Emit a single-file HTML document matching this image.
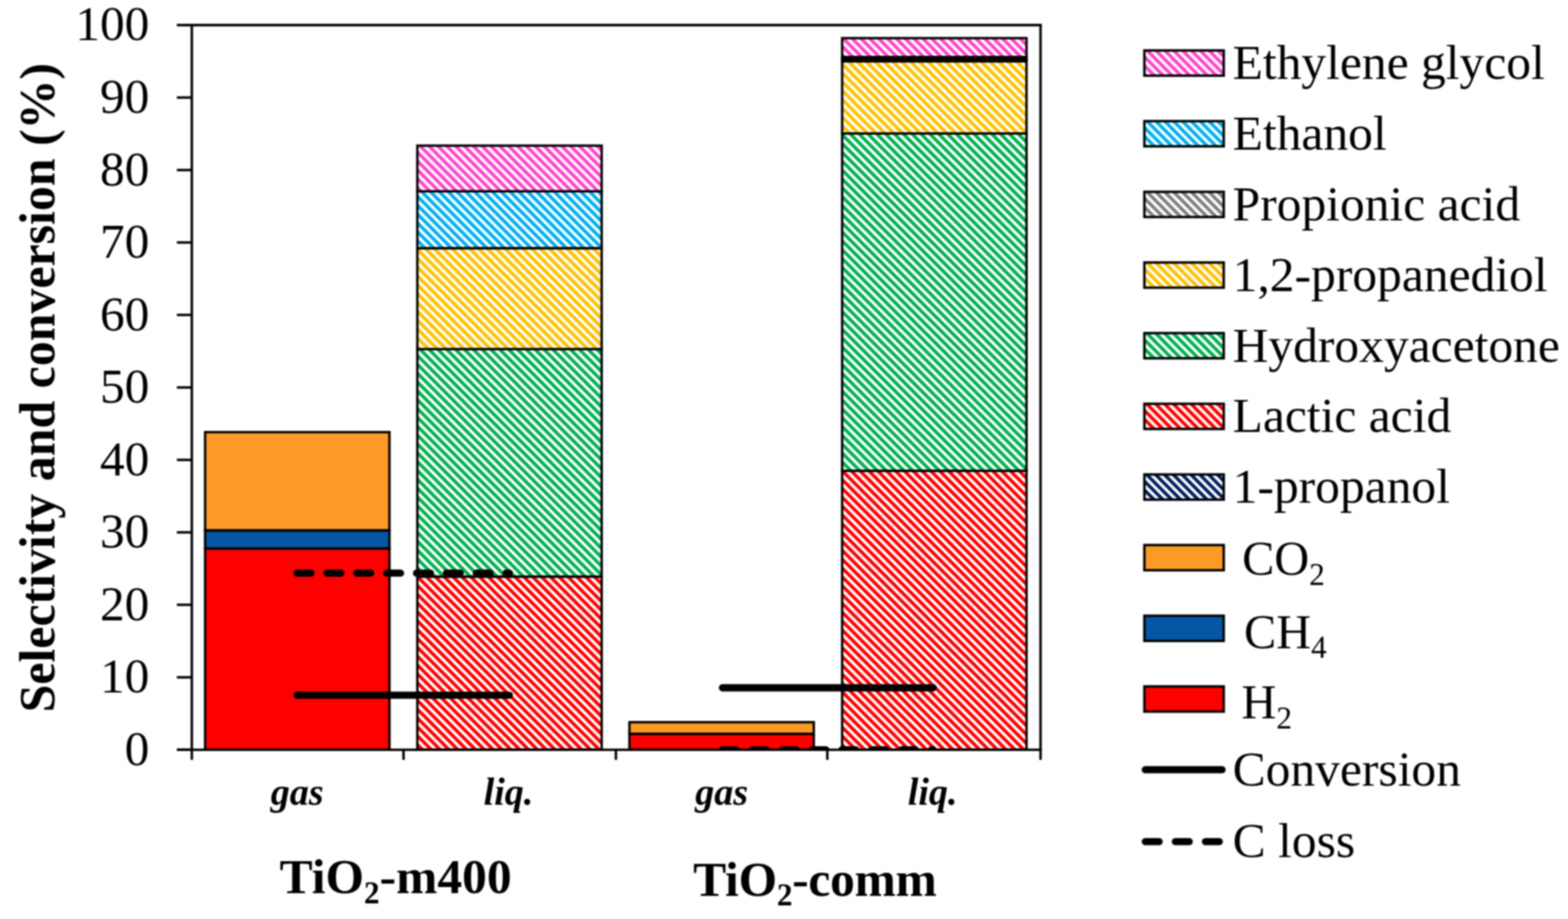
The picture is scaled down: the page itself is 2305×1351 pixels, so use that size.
<!DOCTYPE html>
<html><head><meta charset="utf-8"><title>Selectivity and conversion chart</title>
<style>
html,body{margin:0;padding:0;background:#fff;}
svg{display:block;}
.wrap{filter:blur(0.8px);width:2305px;height:1351px;}
text{font-family:"Liberation Serif",serif;font-size:72.8px;fill:#000;}
.b{font-weight:bold;}
.bi{font-weight:bold;font-style:italic;font-size:56px;}
</style></head>
<body>
<div class="wrap"><svg width="2305" height="1351" viewBox="0 0 2305 1351">
<defs>
<pattern id="pRed" patternUnits="userSpaceOnUse" width="13" height="13">
<rect width="13" height="13" fill="#fff"/>
<path d="M-6.5,-6.5 L19.5,19.5 M-6.5,6.5 L6.5,19.5 M6.5,-6.5 L19.5,6.5" stroke="#ff0000" stroke-width="5.0"/>
</pattern>
<pattern id="pGrn" patternUnits="userSpaceOnUse" width="13" height="13">
<rect width="13" height="13" fill="#fff"/>
<path d="M-6.5,-6.5 L19.5,19.5 M-6.5,6.5 L6.5,19.5 M6.5,-6.5 L19.5,6.5" stroke="#00b050" stroke-width="5.0"/>
</pattern>
<pattern id="pYel" patternUnits="userSpaceOnUse" width="13" height="13">
<rect width="13" height="13" fill="#fff"/>
<path d="M-6.5,-6.5 L19.5,19.5 M-6.5,6.5 L6.5,19.5 M6.5,-6.5 L19.5,6.5" stroke="#ffc000" stroke-width="5.0"/>
</pattern>
<pattern id="pCya" patternUnits="userSpaceOnUse" width="13" height="13">
<rect width="13" height="13" fill="#fff"/>
<path d="M-6.5,-6.5 L19.5,19.5 M-6.5,6.5 L6.5,19.5 M6.5,-6.5 L19.5,6.5" stroke="#00b0f0" stroke-width="5.0"/>
</pattern>
<pattern id="pPnk" patternUnits="userSpaceOnUse" width="13" height="13">
<rect width="13" height="13" fill="#fff"/>
<path d="M-6.5,-6.5 L19.5,19.5 M-6.5,6.5 L6.5,19.5 M6.5,-6.5 L19.5,6.5" stroke="#ff45cc" stroke-width="5.0"/>
</pattern>
<pattern id="pGry" patternUnits="userSpaceOnUse" width="13" height="13">
<rect width="13" height="13" fill="#fff"/>
<path d="M-6.5,-6.5 L19.5,19.5 M-6.5,6.5 L6.5,19.5 M6.5,-6.5 L19.5,6.5" stroke="#808080" stroke-width="5.0"/>
</pattern>
<pattern id="pNav" patternUnits="userSpaceOnUse" width="13" height="13">
<rect width="13" height="13" fill="#fff"/>
<path d="M-6.5,-6.5 L19.5,19.5 M-6.5,6.5 L6.5,19.5 M6.5,-6.5 L19.5,6.5" stroke="#002060" stroke-width="5.0"/>
</pattern>
<clipPath id="plotclip"><rect x="282" y="36" width="1248" height="1066.2"/></clipPath>
</defs>
<rect width="2305" height="1351" fill="#fff"/>
<rect x="301.5" y="806.4" width="271" height="295.8" fill="#ff0000" stroke="#000" stroke-width="3.5"/>
<rect x="301.5" y="779.6" width="271" height="26.7" fill="#0556a4" stroke="#000" stroke-width="3.5"/>
<rect x="301.5" y="635.3" width="271" height="144.3" fill="#fc9a26" stroke="#000" stroke-width="3.5"/>
<rect x="613.5" y="847.6" width="271" height="254.6" fill="url(#pRed)" stroke="#000" stroke-width="3.5"/>
<rect x="613.5" y="513.2" width="271" height="334.4" fill="url(#pGrn)" stroke="#000" stroke-width="3.5"/>
<rect x="613.5" y="364.8" width="271" height="148.4" fill="url(#pYel)" stroke="#000" stroke-width="3.5"/>
<rect x="613.5" y="281.2" width="271" height="83.6" fill="url(#pCya)" stroke="#000" stroke-width="3.5"/>
<rect x="613.5" y="214.1" width="271" height="67.1" fill="url(#pPnk)" stroke="#000" stroke-width="3.5"/>
<rect x="925.3" y="1078.8" width="271" height="23.4" fill="#ff0000" stroke="#000" stroke-width="3.5"/>
<rect x="925.3" y="1078.8" width="271" height="0.0" fill="#0556a4" stroke="#000" stroke-width="3.5"/>
<rect x="925.3" y="1061.7" width="271" height="17.0" fill="#fc9a26" stroke="#000" stroke-width="3.5"/>
<rect x="1238.0" y="692.1" width="271" height="410.1" fill="url(#pRed)" stroke="#000" stroke-width="3.5"/>
<rect x="1238.0" y="196.2" width="271" height="495.9" fill="url(#pGrn)" stroke="#000" stroke-width="3.5"/>
<rect x="1238.0" y="90.2" width="271" height="106.0" fill="url(#pYel)" stroke="#000" stroke-width="3.5"/>
<rect x="1238.0" y="87.0" width="271" height="3.2" fill="url(#pGry)" stroke="#000" stroke-width="3.5"/>
<rect x="1238.0" y="83.8" width="271" height="3.2" fill="url(#pCya)" stroke="#000" stroke-width="3.5"/>
<rect x="1238.0" y="56.1" width="271" height="27.7" fill="url(#pPnk)" stroke="#000" stroke-width="3.5"/>
<line x1="260" y1="36.9" x2="1531.3" y2="36.9" stroke="#000" stroke-width="3.6"/>
<line x1="1529.6" y1="35.2" x2="1529.6" y2="1102.2" stroke="#000" stroke-width="3.6"/>
<line x1="282" y1="35.2" x2="282" y2="1117" stroke="#000" stroke-width="3.6"/>
<line x1="260" y1="1102.2" x2="1531.3" y2="1102.2" stroke="#000" stroke-width="3.6"/>
<line x1="260" y1="1102.2" x2="282" y2="1102.2" stroke="#000" stroke-width="3.6"/>
<line x1="260" y1="995.7" x2="282" y2="995.7" stroke="#000" stroke-width="3.6"/>
<line x1="260" y1="889.1" x2="282" y2="889.1" stroke="#000" stroke-width="3.6"/>
<line x1="260" y1="782.6" x2="282" y2="782.6" stroke="#000" stroke-width="3.6"/>
<line x1="260" y1="676.1" x2="282" y2="676.1" stroke="#000" stroke-width="3.6"/>
<line x1="260" y1="569.6" x2="282" y2="569.6" stroke="#000" stroke-width="3.6"/>
<line x1="260" y1="463.0" x2="282" y2="463.0" stroke="#000" stroke-width="3.6"/>
<line x1="260" y1="356.5" x2="282" y2="356.5" stroke="#000" stroke-width="3.6"/>
<line x1="260" y1="250.0" x2="282" y2="250.0" stroke="#000" stroke-width="3.6"/>
<line x1="260" y1="143.4" x2="282" y2="143.4" stroke="#000" stroke-width="3.6"/>
<line x1="593.2" y1="1102.2" x2="593.2" y2="1117" stroke="#000" stroke-width="3.6"/>
<line x1="905.4" y1="1102.2" x2="905.4" y2="1117" stroke="#000" stroke-width="3.6"/>
<line x1="1216.2" y1="1102.2" x2="1216.2" y2="1117" stroke="#000" stroke-width="3.6"/>
<line x1="1529.6" y1="1102.2" x2="1529.6" y2="1117" stroke="#000" stroke-width="3.6"/>
<line x1="436.9" y1="1022.0" x2="748.8" y2="1022.0" stroke="#000" stroke-width="10.6" stroke-linecap="round"/>
<line x1="436.7" y1="842.5" x2="748.8" y2="842.5" stroke="#000" stroke-width="10.6" stroke-linecap="round" stroke-dasharray="20.4 23.5"/>
<line x1="1062" y1="1011.1" x2="1371.8" y2="1011.1" stroke="#000" stroke-width="10.6" stroke-linecap="round"/>
<g clip-path="url(#plotclip)"><line x1="1062" y1="1102.2" x2="1371.8" y2="1102.2" stroke="#000" stroke-width="10.6" stroke-linecap="round" stroke-dasharray="20.4 23.5"/></g>
<text x="219.5" y="1124.7" text-anchor="end" style="font-size:72.5px">0</text>
<text x="219.5" y="1018.2" text-anchor="end" style="font-size:72.5px">10</text>
<text x="219.5" y="911.6" text-anchor="end" style="font-size:72.5px">20</text>
<text x="219.5" y="805.1" text-anchor="end" style="font-size:72.5px">30</text>
<text x="219.5" y="698.6" text-anchor="end" style="font-size:72.5px">40</text>
<text x="219.5" y="592.1" text-anchor="end" style="font-size:72.5px">50</text>
<text x="219.5" y="485.5" text-anchor="end" style="font-size:72.5px">60</text>
<text x="219.5" y="379.0" text-anchor="end" style="font-size:72.5px">70</text>
<text x="219.5" y="272.5" text-anchor="end" style="font-size:72.5px">80</text>
<text x="219.5" y="165.9" text-anchor="end" style="font-size:72.5px">90</text>
<text x="219.5" y="59.4" text-anchor="end" style="font-size:72.5px">100</text>
<text class="b" transform="translate(79.9,1047.3) rotate(-90)" style="font-size:73.3px">Selectivity and conversion (%)</text>
<text class="bi" x="437" y="1182.8" text-anchor="middle">gas</text>
<text class="bi" x="747.5" y="1182.8" text-anchor="middle">liq.</text>
<text class="bi" x="1061" y="1182.8" text-anchor="middle">gas</text>
<text class="bi" x="1371" y="1182.8" text-anchor="middle">liq.</text>
<text class="b" x="411" y="1313.1">TiO<tspan font-size="46" dy="14.5">2</tspan><tspan dy="-14.5">-m400</tspan></text>
<text class="b" x="1019" y="1316.8" style="letter-spacing:-0.4px">TiO<tspan font-size="46" dy="14.5">2</tspan><tspan dy="-14.5">-comm</tspan></text>
<rect x="1682.3" y="74.2" width="116.6" height="37" fill="url(#pPnk)" stroke="#000" stroke-width="3.6"/>
<text x="1812" y="116.0">Ethylene glycol</text>
<rect x="1682.3" y="178.1" width="116.6" height="37" fill="url(#pCya)" stroke="#000" stroke-width="3.6"/>
<text x="1812" y="219.9">Ethanol</text>
<rect x="1682.3" y="282.0" width="116.6" height="37" fill="url(#pGry)" stroke="#000" stroke-width="3.6"/>
<text x="1812" y="323.8">Propionic acid</text>
<rect x="1682.3" y="385.9" width="116.6" height="37" fill="url(#pYel)" stroke="#000" stroke-width="3.6"/>
<text x="1812" y="427.7">1,2-propanediol</text>
<rect x="1682.3" y="489.7" width="116.6" height="37" fill="url(#pGrn)" stroke="#000" stroke-width="3.6"/>
<text x="1812" y="531.5">Hydroxyacetone</text>
<rect x="1682.3" y="593.6" width="116.6" height="37" fill="url(#pRed)" stroke="#000" stroke-width="3.6"/>
<text x="1812" y="635.4">Lactic acid</text>
<rect x="1682.3" y="697.5" width="116.6" height="37" fill="url(#pNav)" stroke="#000" stroke-width="3.6"/>
<text x="1812" y="739.3">1-propanol</text>
<rect x="1682.3" y="801.3" width="116.6" height="37" fill="#fc9a26" stroke="#000" stroke-width="3.6"/>
<text x="1825.9" y="845" style="font-size:71px">CO<tspan font-size="46" dy="14.5">2</tspan></text>
<rect x="1682.3" y="905.2" width="116.6" height="37" fill="#0556a4" stroke="#000" stroke-width="3.6"/>
<text x="1828.7" y="952.5" style="font-size:71px">CH<tspan font-size="46" dy="14.5">4</tspan></text>
<rect x="1682.3" y="1009.1" width="116.6" height="37" fill="#ff0000" stroke="#000" stroke-width="3.6"/>
<text x="1824.9" y="1056" style="font-size:71px">H<tspan font-size="46" dy="14.5">2</tspan></text>
<line x1="1683.6" y1="1131.5" x2="1796.4" y2="1131.5" stroke="#000" stroke-width="10.6" stroke-linecap="round"/>
<text x="1812" y="1154.8">Conversion</text>
<line x1="1683.6" y1="1237.3" x2="1796.4" y2="1237.3" stroke="#000" stroke-width="10.6" stroke-linecap="round" stroke-dasharray="20.4 23.8"/>
<text x="1812" y="1260.3">C loss</text>
</svg></div>
</body></html>
